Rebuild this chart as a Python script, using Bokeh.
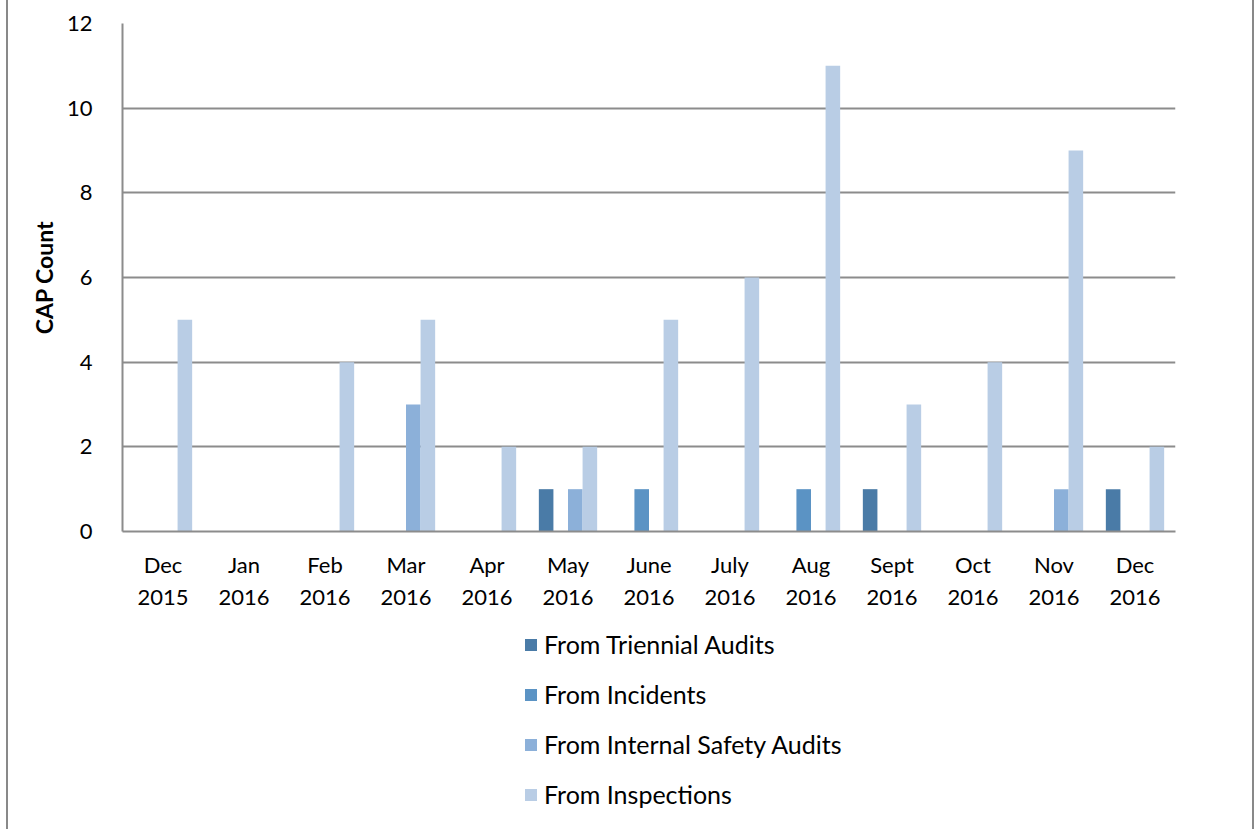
from bokeh.plotting import figure
from bokeh.models import ColumnDataSource, Legend, LegendItem, FixedTicker, Range1d
from bokeh.layouts import column
from bokeh.transform import dodge
from bokeh.embed import file_html
from bokeh.resources import INLINE

months = ["Dec\n2015", "Jan\n2016", "Feb\n2016", "Mar\n2016", "Apr\n2016", "May\n2016",
          "June\n2016", "July\n2016", "Aug\n2016", "Sept\n2016", "Oct\n2016", "Nov\n2016", "Dec\n2016"]
triennial = [0, 0, 0, 0, 0, 1, 0, 0, 0, 1, 0, 0, 1]
incidents = [0, 0, 0, 0, 0, 0, 1, 0, 1, 0, 0, 0, 0]
internal = [0, 0, 0, 3, 0, 1, 0, 0, 0, 0, 0, 1, 0]
inspections = [5, 0, 4, 5, 2, 2, 5, 6, 11, 3, 4, 9, 2]
series_names = ["From Triennial Audits", "From Incidents", "From Internal Safety Audits", "From Inspections"]
colors = ["#4A7BA7", "#5B93C4", "#8CB0D9", "#B9CDE5"]

src = ColumnDataSource(dict(m=months, t=triennial, i=incidents, s=internal, p=inspections))

FONT = "Lato"
p = figure(x_range=months, y_range=Range1d(0, 12), frame_width=1053, frame_height=508,
           output_backend="svg", toolbar_location=None,
           min_border_left=114, min_border_right=77, min_border_top=23, min_border_bottom=90)

keys = ["t", "i", "s", "p"]
offsets = [-0.27, -0.09, 0.09, 0.27]
for k, off, c in zip(keys, offsets, colors):
    p.vbar(x=dodge("m", off, range=p.x_range), top=k, width=0.18, source=src,
           fill_color=c, line_color=None)

p.outline_line_color = None
p.xgrid.grid_line_color = None
p.ygrid.grid_line_color = "#8c8c8c"
p.ygrid.grid_line_width = 2
p.yaxis.ticker = FixedTicker(ticks=[0, 2, 4, 6, 8, 10, 12])
p.yaxis.axis_line_color = "#8c8c8c"
p.yaxis.axis_line_width = 2
p.xaxis.axis_line_color = "#8c8c8c"
p.xaxis.axis_line_width = 2
for ax in (p.xaxis[0], p.yaxis[0]):
    ax.major_tick_line_color = None
    ax.minor_tick_line_color = None
    ax.major_label_text_font = FONT
    ax.major_label_text_font_size = "22px"
    ax.major_label_text_color = "#000000"
p.yaxis.major_label_standoff = 24
p.xaxis.major_label_standoff = 13
p.xaxis.major_label_text_line_height = 1.22
p.yaxis.axis_label = "CAP Count"
p.yaxis.axis_label_text_font = FONT
p.yaxis.axis_label_text_font_style = "bold"
p.yaxis.axis_label_text_font_size = "23px"
p.yaxis.axis_label_text_color = "#000000"
p.yaxis.axis_label_standoff = 6

# legend panel below the chart
lg = figure(width=1244, height=208, x_range=Range1d(0, 1), y_range=Range1d(0, 1),
            x_axis_type=None, y_axis_type=None, output_backend="svg", toolbar_location=None,
            min_border=0)
lg.outline_line_color = None
lsrc = ColumnDataSource(dict(x=[0.5], top=[0]))
lrs = [lg.vbar(x="x", top="top", width=0.01, source=lsrc, fill_color=c, line_color=None)
       for c in colors]
legend = Legend(items=[LegendItem(label=n, renderers=[r]) for n, r in zip(series_names, lrs)],
                orientation="vertical", location=(401, 20))
legend.label_text_font = FONT
legend.label_text_font_size = "25px"
legend.label_text_color = "#000000"
legend.glyph_width = 15
legend.glyph_height = 15
legend.label_height = 25
legend.spacing = 20
legend.label_standoff = 6
legend.border_line_color = None
legend.background_fill_alpha = 0
legend.margin = 0
legend.padding = 0
lg.add_layout(legend, "center")

layout = column(p, lg, spacing=0)
layout.styles = {"margin-left": "6px", "border-left": "2px solid #898989",
                 "border-right": "2px solid #898989"}

open("out.html", "w").write(file_html(layout, INLINE))
